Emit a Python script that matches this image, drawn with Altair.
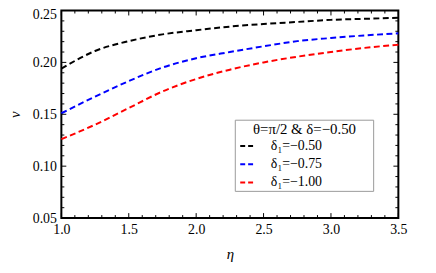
import altair as alt
import pandas as pd

eta = [1.0, 1.25, 1.5, 1.75, 2.0, 2.25, 2.5, 2.75, 3.0, 3.25, 3.5]
nu_050 = [0.194, 0.211, 0.2205, 0.227, 0.231, 0.2345, 0.237, 0.239, 0.241, 0.242, 0.243]
nu_075 = [0.151, 0.167, 0.182, 0.195, 0.204, 0.210, 0.2155, 0.2205, 0.2235, 0.226, 0.228]
nu_100 = [0.126, 0.140, 0.156, 0.172, 0.184, 0.193, 0.200, 0.2055, 0.210, 0.214, 0.217]
labels = ["δ₁=−0.50", "δ₁=−0.75", "δ₁=−1.00"]
colors = ["#000000", "#0000ff", "#ff0000"]
legend_title = "θ=π/2  &  δ=−0.50"

x_major = [1.0, 1.5, 2.0, 2.5, 3.0, 3.5]
x_minor = [1.1, 1.2, 1.3, 1.4, 1.6, 1.7, 1.8, 1.9, 2.1, 2.2, 2.3, 2.4,
           2.6, 2.7, 2.8, 2.9, 3.1, 3.2, 3.3, 3.4]
y_major = [0.05, 0.10, 0.15, 0.20, 0.25]
y_minor = [0.06, 0.07, 0.08, 0.09, 0.11, 0.12, 0.13, 0.14, 0.16, 0.17, 0.18,
           0.19, 0.21, 0.22, 0.23, 0.24]

W, H = 341, 210
FONT = "Liberation Serif"

rows = []
for lab, vals in zip(labels, [nu_050, nu_075, nu_100]):
    for e, v in zip(eta, vals):
        rows.append({"eta": e, "nu": v, "series": lab})
df = pd.DataFrame(rows)

xs = alt.Scale(domain=[1.0, 3.5], nice=False, zero=False)
ys = alt.Scale(domain=[0.05, 0.25], nice=False, zero=False)

lines = alt.Chart(df).mark_line(strokeWidth=2, strokeDash=[6, 3.5], interpolate="monotone").encode(
    x=alt.X("eta:Q", scale=xs,
            axis=alt.Axis(title="η", values=x_major, format=".1f", tickSize=0, grid=False,
                          domain=False, labelPadding=5, titlePadding=10, labelFlush=False,
                          titleFontStyle="italic", titleFontWeight="normal")),
    y=alt.Y("nu:Q", scale=ys,
            axis=alt.Axis(title="ν", values=y_major, format=".2f", tickSize=0, grid=False,
                          domain=False, labelPadding=5, titlePadding=10, labelFlush=False,
                          labelOffset={"condition": {"test": "datum.value >= 0.249", "value": 4}, "value": 0},
                          titleFontStyle="italic", titleFontWeight="normal")),
    color=alt.Color("series:N", scale=alt.Scale(domain=labels, range=colors), legend=None),
)

def xticks(vals, length):
    d = pd.DataFrame({"v": vals})
    bot = alt.Chart(d).mark_rule(color="black", strokeWidth=1).encode(
        x=alt.X("v:Q", scale=xs), y=alt.value(H), y2=alt.value(H - length))
    top = alt.Chart(d).mark_rule(color="black", strokeWidth=1).encode(
        x=alt.X("v:Q", scale=xs), y=alt.value(0), y2=alt.value(length))
    return [bot, top]

def yticks(vals, length):
    d = pd.DataFrame({"v": vals})
    left = alt.Chart(d).mark_rule(color="black", strokeWidth=1).encode(
        y=alt.Y("v:Q", scale=ys), x=alt.value(0), x2=alt.value(length))
    right = alt.Chart(d).mark_rule(color="black", strokeWidth=1).encode(
        y=alt.Y("v:Q", scale=ys), x=alt.value(W), x2=alt.value(W - length))
    return [left, right]

# manual legend (decoration)
one = pd.DataFrame({"k": [0]})
leg = [
    alt.Chart(one).mark_rect(fill="white", stroke="#999999", strokeWidth=1).encode(
        x=alt.value(176), x2=alt.value(316), y=alt.value(111), y2=alt.value(183)),
    alt.Chart(one).mark_text(font=FONT, fontSize=15, align="center", baseline="middle",
                             color="black", text=legend_title).encode(
        x=alt.value(246), y=alt.value(120)),
]
row_y = [137, 155.5, 174]
for lab, col, ry in zip(labels, colors, row_y):
    leg.append(alt.Chart(one).mark_rule(color=col, strokeWidth=2, strokeDash=[5, 3]).encode(
        x=alt.value(181), x2=alt.value(196), y=alt.value(ry)))
    leg.append(alt.Chart(one).mark_text(font=FONT, fontSize=14, align="left", baseline="middle",
                                        color="black", text=lab).encode(
        x=alt.value(212), y=alt.value(ry)))

layers = [lines] + xticks(x_major, 5) + xticks(x_minor, 3) + yticks(y_major, 5) + yticks(y_minor, 3) + leg

chart = alt.layer(*layers).properties(
    width=W, height=H,
    autosize=alt.AutoSizeParams(type="none"),
    padding={"left": 54, "top": 1, "right": 30, "bottom": 50},
).configure_view(
    stroke="black", strokeWidth=2
).configure_axis(
    labelFont=FONT, labelFontSize=14, titleFont=FONT, titleFontSize=15,
    labelColor="black", titleColor="black"
)

chart.save("out.html", embed_options={"renderer": "svg", "actions": False})
